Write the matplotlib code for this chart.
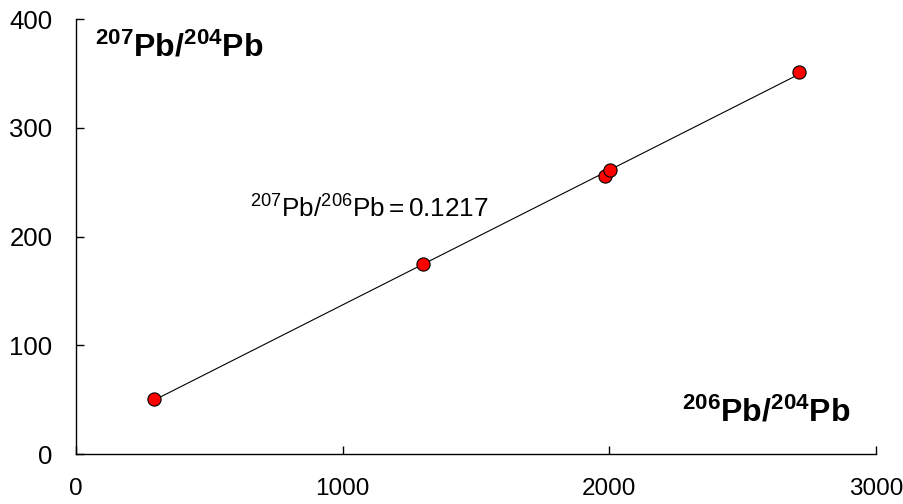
import numpy as np
import matplotlib
matplotlib.use('Agg')
import matplotlib.pyplot as plt

plt.rcParams['font.family'] = ['Liberation Sans', 'DejaVu Sans']
plt.rcParams['mathtext.fontset'] = 'custom'
plt.rcParams['mathtext.rm'] = 'Liberation Sans'
plt.rcParams['mathtext.it'] = 'Liberation Sans'
plt.rcParams['mathtext.bf'] = 'Liberation Sans:bold'

# Pb isotope ratios
pb206_204 = [292, 1301, 1985, 2001, 2712]
pb207_204 = [50.5, 174.3, 256, 261, 351.7]
x_ticks = [0, 1000, 2000, 3000]
y_ticks = [0, 100, 200, 300, 400]

fig = plt.figure(figsize=(9.04, 5.04), dpi=100)
ax = fig.add_axes([0.0841, 0.0992, 0.8849, 0.8631])

# fitted line across the data range
k, b = np.polyfit(pb206_204, pb207_204, 1)
xs = np.array([min(pb206_204), max(pb206_204)])
ax.plot(xs, k * xs + b, color='black', lw=0.8, zorder=2)

ax.plot(pb206_204, pb207_204, 'o', ms=9.5, mfc='red', mec='black', mew=0.8, zorder=3)

ax.set_xlim(0, 3000)
ax.set_ylim(0, 400)
ax.set_xticks(x_ticks)
ax.set_yticks(y_ticks)
ax.spines['top'].set_visible(False)
ax.spines['right'].set_visible(False)
for s in ('left', 'bottom'):
    ax.spines[s].set_linewidth(1.0)
ax.tick_params(axis='both', direction='in', length=6, width=1.0)
ax.tick_params(axis='y', pad=17, labelsize=18.5)
ax.tick_params(axis='x', pad=17.5, labelsize=17.5)

ax.text(0.024, 0.933, r'$\mathbf{^{207}Pb/^{204}Pb}$', transform=ax.transAxes,
        fontsize=23, ha='left', va='center')
ax.text(0.9675, 0.094, r'$\mathbf{^{206}Pb/^{204}Pb}$', transform=ax.transAxes,
        fontsize=23, ha='right', va='center')
ax.text(0.2175, 0.564, r'$\mathrm{^{207}Pb/^{206}Pb = 0.1217}$', transform=ax.transAxes,
        fontsize=18.8, ha='left', va='center')

fig.savefig('out.png', dpi=100)
